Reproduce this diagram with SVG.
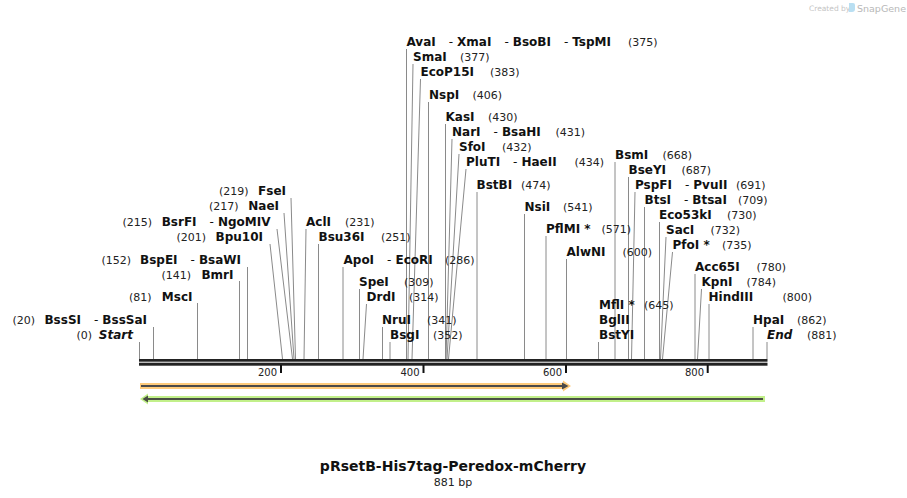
<svg xmlns="http://www.w3.org/2000/svg" width="907" height="498" viewBox="0 0 907 498">
<style>
.n{font-family:"DejaVu Sans",sans-serif;font-size:12px;font-weight:bold;fill:#111}
.p{font-family:"DejaVu Sans",sans-serif;font-size:11px;font-weight:normal;fill:#222}
.d{font-weight:normal}
.it{font-style:italic}
.e{text-anchor:end}
.tk{font-family:"DejaVu Sans",sans-serif;font-size:10px;fill:#222;text-anchor:end}
.c line{stroke:#8a8a8a;stroke-width:1}
</style>
<rect width="907" height="498" fill="#fff"/>
<g id="watermark">
<text x="809" y="11" font-family="'DejaVu Sans',sans-serif" font-size="7.5" fill="#c4c4c4">Created by</text>
<path d="M849 3 h4 a2 2 0 0 1 2 2 v4 a3 3 0 0 1 -3 3 h-3 z" fill="#b9dff2"/>
<text x="857" y="12" font-family="'DejaVu Sans',sans-serif" font-size="9.5" fill="#b8b8b8">SnapGene</text>
</g>
<g id="connectors" class="c">
<line x1="139.5" y1="342" x2="139.5" y2="359"/>
<line x1="153.5" y1="327" x2="153.5" y2="359"/>
<line x1="197.5" y1="303" x2="197.5" y2="359"/>
<line x1="239.5" y1="281" x2="239.5" y2="359"/>
<line x1="247.5" y1="267" x2="247.5" y2="359"/>
<line x1="270" y1="244" x2="282.5" y2="359"/>
<line x1="277" y1="229" x2="292.5" y2="359"/>
<line x1="284" y1="213" x2="294" y2="359"/>
<line x1="291" y1="198" x2="295.5" y2="359"/>
<line x1="306" y1="229" x2="304" y2="359"/>
<line x1="318.5" y1="244" x2="318.5" y2="359"/>
<line x1="343" y1="267" x2="343" y2="359"/>
<line x1="359.5" y1="289" x2="359.5" y2="359"/>
<line x1="366.5" y1="304" x2="363" y2="359"/>
<line x1="382.5" y1="327" x2="382.5" y2="359"/>
<line x1="390" y1="342" x2="390" y2="359"/>
<line x1="406.5" y1="49" x2="406.5" y2="359"/>
<line x1="413" y1="64" x2="408" y2="359"/>
<line x1="420.5" y1="79" x2="412" y2="359"/>
<line x1="428.5" y1="102" x2="428.5" y2="359"/>
<line x1="445.5" y1="124" x2="445.5" y2="359"/>
<line x1="452" y1="139" x2="446" y2="359"/>
<line x1="459" y1="154" x2="447" y2="359"/>
<line x1="466" y1="169" x2="448.5" y2="359"/>
<line x1="477" y1="192" x2="477" y2="359"/>
<line x1="524.5" y1="214" x2="524.5" y2="359"/>
<line x1="546" y1="236" x2="546" y2="359"/>
<line x1="566.5" y1="259" x2="566.5" y2="359"/>
<line x1="615" y1="162" x2="615" y2="359"/>
<line x1="628.5" y1="177" x2="628.5" y2="359"/>
<line x1="635" y1="192" x2="631.5" y2="359"/>
<line x1="644.5" y1="207" x2="644.5" y2="359"/>
<line x1="659.5" y1="222" x2="659.5" y2="359"/>
<line x1="666" y1="237" x2="660.5" y2="359"/>
<line x1="672.5" y1="252" x2="662.5" y2="359"/>
<line x1="695" y1="274" x2="695" y2="359"/>
<line x1="701.5" y1="289" x2="697.5" y2="359"/>
<line x1="709" y1="304" x2="709" y2="359"/>
<line x1="598.5" y1="342" x2="598.5" y2="359"/>
<line x1="753" y1="327" x2="753" y2="359"/>
<line x1="767" y1="342" x2="767" y2="359"/>
</g>
<g id="backbone">
<rect x="139" y="359" width="628.5" height="2.7" fill="#222"/>
<rect x="139" y="362.7" width="628.5" height="3" fill="#222"/>
<rect x="280" y="365" width="2" height="8" fill="#111"/>
<rect x="422.5" y="365" width="2" height="8" fill="#111"/>
<rect x="565" y="365" width="2" height="8" fill="#111"/>
<rect x="706.7" y="365" width="2" height="8" fill="#111"/>
<text class="tk" x="277" y="376">200</text>
<text class="tk" x="419.5" y="376">400</text>
<text class="tk" x="562" y="376">600</text>
<text class="tk" x="704" y="376">800</text>
</g>
<g id="feature-forward">
<path d="M140 383 H563 V380.5 L571 386 L563 391.5 V389 H140 Z" fill="#fecb7c"/>
<rect x="141" y="385" width="422" height="2" fill="#4a4a4a"/>
<path d="M562 382.5 L568.5 386 L562 389.5 Z" fill="#4a4a4a"/>
</g>
<g id="feature-reverse">
<path d="M765 396 H148 V393.5 L140 399 L148 404.5 V402 H765 Z" fill="#c2f08a"/>
<rect x="147" y="398" width="616" height="2" fill="#4a4f44"/>
<path d="M148 395.5 L142.5 399 L148 402.5 Z" fill="#4a4f44"/>
</g>
<g id="site-start"><text class="p e" x="92" y="339">(0)</text><text class="n it e" x="133" y="339">Start</text></g>
<g id="site-bsssi"><text class="p e" x="35" y="324">(20)</text><text class="n e" x="147" y="324">BssSI<tspan class="d" dx="13">-</tspan><tspan dx="4">BssSaI</tspan></text></g>
<g id="site-msci"><text class="p e" x="151.5" y="301">(81)</text><text class="n e" x="192.5" y="301">MscI</text></g>
<g id="site-bmri"><text class="p e" x="191" y="279">(141)</text><text class="n e" x="233.5" y="279">BmrI</text></g>
<g id="site-bspei"><text class="p e" x="131" y="264">(152)</text><text class="n e" x="241" y="264">BspEI<tspan class="d" dx="13">-</tspan><tspan dx="4">BsaWI</tspan></text></g>
<g id="site-bpu10i"><text class="p e" x="206" y="241">(201)</text><text class="n e" x="263" y="241">Bpu10I</text></g>
<g id="site-bsrfi"><text class="p e" x="152" y="226">(215)</text><text class="n e" x="270.5" y="226">BsrFI<tspan class="d" dx="13">-</tspan><tspan dx="4">NgoMIV</tspan></text></g>
<g id="site-naei"><text class="p e" x="238.5" y="210">(217)</text><text class="n e" x="279" y="210">NaeI</text></g>
<g id="site-fsei"><text class="p e" x="248.5" y="195">(219)</text><text class="n e" x="286" y="195">FseI</text></g>
<g id="site-acli"><text class="n" x="306" y="226">AclI</text><text class="p" x="345" y="226">(231)</text></g>
<g id="site-bsu36i"><text class="n" x="318.5" y="241">Bsu36I</text><text class="p" x="381" y="241">(251)</text></g>
<g id="site-apoi"><text class="n" x="343.5" y="264">ApoI<tspan class="d" dx="13">-</tspan><tspan dx="4">EcoRI</tspan></text><text class="p" x="445" y="264">(286)</text></g>
<g id="site-spei"><text class="n" x="359" y="286">SpeI</text><text class="p" x="404" y="286">(309)</text></g>
<g id="site-drdi"><text class="n" x="366.5" y="301">DrdI</text><text class="p" x="409" y="301">(314)</text></g>
<g id="site-nrui"><text class="n" x="382" y="324">NruI</text><text class="p" x="427" y="324">(341)</text></g>
<g id="site-bsgi"><text class="n" x="390" y="339">BsgI</text><text class="p" x="433" y="339">(352)</text></g>
<g id="site-avai"><text class="n" x="406.5" y="46">AvaI<tspan class="d" dx="13">-</tspan><tspan dx="4">XmaI</tspan><tspan class="d" dx="13">-</tspan><tspan dx="4">BsoBI</tspan><tspan class="d" dx="13">-</tspan><tspan dx="4">TspMI</tspan></text><text class="p" x="628" y="46">(375)</text></g>
<g id="site-smai"><text class="n" x="413" y="61">SmaI</text><text class="p" x="460" y="61">(377)</text></g>
<g id="site-ecop15i"><text class="n" x="420.5" y="76">EcoP15I</text><text class="p" x="490" y="76">(383)</text></g>
<g id="site-nspi"><text class="n" x="429" y="99">NspI</text><text class="p" x="472.5" y="99">(406)</text></g>
<g id="site-kasi"><text class="n" x="445.5" y="121">KasI</text><text class="p" x="488" y="121">(430)</text></g>
<g id="site-nari"><text class="n" x="452" y="136">NarI<tspan class="d" dx="13">-</tspan><tspan dx="4">BsaHI</tspan></text><text class="p" x="555.5" y="136">(431)</text></g>
<g id="site-sfoi"><text class="n" x="459" y="151">SfoI</text><text class="p" x="502" y="151">(432)</text></g>
<g id="site-pluti"><text class="n" x="466" y="166">PluTI<tspan class="d" dx="13">-</tspan><tspan dx="4">HaeII</tspan></text><text class="p" x="574.5" y="166">(434)</text></g>
<g id="site-bstbi"><text class="n" x="476.5" y="189">BstBI</text><text class="p" x="521" y="189">(474)</text></g>
<g id="site-nsii"><text class="n" x="524.5" y="211">NsiI</text><text class="p" x="563" y="211">(541)</text></g>
<g id="site-pflmi"><text class="n" x="546" y="233">PflMI *</text><text class="p" x="601.5" y="233">(571)</text></g>
<g id="site-alwni"><text class="n" x="566.5" y="256">AlwNI</text><text class="p" x="622.5" y="256">(600)</text></g>
<g id="site-bsmi"><text class="n" x="615" y="159">BsmI</text><text class="p" x="662.5" y="159">(668)</text></g>
<g id="site-bseyi"><text class="n" x="628.5" y="174">BseYI</text><text class="p" x="681.5" y="174">(687)</text></g>
<g id="site-pspfi"><text class="n" x="635" y="189">PspFI<tspan class="d" dx="13">-</tspan><tspan dx="4">PvuII</tspan></text><text class="p" x="736" y="189">(691)</text></g>
<g id="site-btsi"><text class="n" x="644.5" y="204">BtsI<tspan class="d" dx="13">-</tspan><tspan dx="4">BtsaI</tspan></text><text class="p" x="738" y="204">(709)</text></g>
<g id="site-eco53ki"><text class="n" x="659" y="219">Eco53kI</text><text class="p" x="727" y="219">(730)</text></g>
<g id="site-saci"><text class="n" x="666" y="234">SacI</text><text class="p" x="710.5" y="234">(732)</text></g>
<g id="site-pfoi"><text class="n" x="672.5" y="249">PfoI *</text><text class="p" x="722" y="249">(735)</text></g>
<g id="site-acc65i"><text class="n" x="695" y="271">Acc65I</text><text class="p" x="756.5" y="271">(780)</text></g>
<g id="site-kpni"><text class="n" x="701.5" y="286">KpnI</text><text class="p" x="746.5" y="286">(784)</text></g>
<g id="site-hindiii"><text class="n" x="708.5" y="301">HindIII</text><text class="p" x="782.5" y="301">(800)</text></g>
<g id="site-mfli"><text class="n" x="599" y="309">MflI *</text><text class="p" x="644" y="309">(645)</text><text class="n" x="599" y="324">BglII</text><text class="n" x="599" y="339">BstYI</text></g>
<g id="site-hpai"><text class="n" x="753" y="324">HpaI</text><text class="p" x="797" y="324">(862)</text></g>
<g id="site-end"><text class="n it" x="767" y="339">End</text><text class="p" x="807" y="339">(881)</text></g>
<g id="title">
<text x="453" y="471" text-anchor="middle" font-family="'DejaVu Sans',sans-serif" font-size="14" font-weight="bold" fill="#111">pRsetB-His7tag-Peredox-mCherry</text>
<text x="453" y="486" text-anchor="middle" font-family="'DejaVu Sans',sans-serif" font-size="11" fill="#222">881 bp</text>
</g>
</svg>
